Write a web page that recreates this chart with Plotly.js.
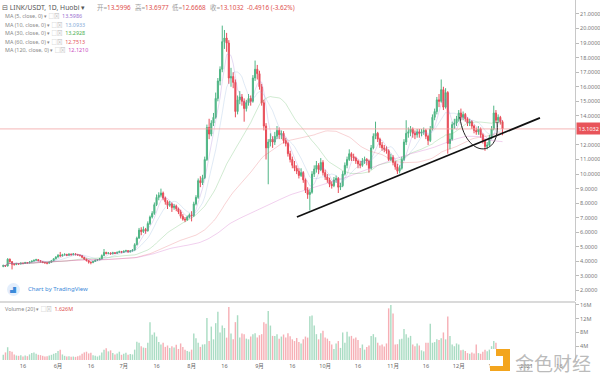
<!DOCTYPE html>
<html>
<head>
<meta charset="utf-8">
<script src="https://cdn.plot.ly/plotly-3.0.1.min.js"></script>
<style>html,body{margin:0;padding:0;background:#fff;}#chart{width:600px;height:376px;}</style>
</head>
<body>
<div id="chart"></div>
<script>
// ---- data (daily candles, LINK/USDT Huobi, ~May 7 – Dec 21 2020) ----
const open = [3.65,3.72,3.68,4.15,3.98,3.80,3.78,3.85,3.82,3.88,
3.86,3.92,3.90,3.96,4.02,4.08,4.12,4.05,3.98,3.93,
3.90,3.88,3.95,4.05,4.18,4.30,4.42,4.38,4.45,4.48,
4.42,4.50,4.46,4.52,4.47,4.44,4.40,4.28,4.15,4.05,
3.95,3.92,4.00,4.08,4.12,4.18,4.40,4.62,4.55,4.58,
4.52,4.60,4.55,4.62,4.68,4.62,4.70,4.74,4.65,4.72,
4.78,5.15,5.60,6.15,6.05,6.20,6.10,6.60,7.05,7.30,
7.90,8.40,8.55,8.70,8.35,8.10,7.85,7.95,7.70,7.80,
7.62,7.40,7.10,6.90,6.85,7.05,7.20,7.15,7.95,8.40,
9.55,9.40,9.75,11.00,13.20,12.75,13.50,13.90,15.20,16.40,
17.20,19.10,19.35,19.00,16.60,16.70,16.30,14.30,15.10,15.30,
15.00,14.50,14.90,15.20,15.00,16.60,17.20,16.90,16.00,14.90,
13.30,11.80,12.20,12.40,12.20,12.60,13.00,12.70,12.80,12.30,
12.10,11.40,11.00,10.60,10.40,10.20,9.90,10.10,9.60,8.90,
8.60,8.75,10.00,10.35,10.60,10.30,10.80,10.10,9.80,9.60,
9.30,9.20,9.60,9.70,9.10,9.20,10.00,10.60,11.00,11.40,
11.20,11.10,10.90,10.70,10.60,10.90,11.00,10.90,10.40,11.80,
12.60,12.80,12.40,12.00,11.80,11.70,11.60,11.00,11.15,10.80,
10.50,10.20,10.40,11.00,12.20,12.80,12.90,13.10,12.80,12.70,
12.90,12.80,12.90,13.00,12.60,12.30,13.10,13.90,14.30,15.10,
15.00,15.80,14.60,15.60,12.10,12.40,13.40,13.50,13.80,14.20,
13.90,14.10,13.80,13.50,13.60,13.30,13.00,12.90,13.10,12.70,
12.30,11.90,12.00,12.50,13.10,14.20,13.70,13.90,13.5996];
const high = [3.78,3.76,4.22,4.20,4.02,3.86,3.90,3.89,3.93,3.92,
3.97,3.95,4.00,4.06,4.12,4.18,4.15,4.08,4.01,3.97,
3.94,3.99,4.10,4.22,4.36,4.50,4.65,4.52,4.56,4.52,
4.56,4.54,4.58,4.55,4.52,4.48,4.44,4.31,4.19,4.08,
4.00,4.05,4.12,4.16,4.24,4.48,4.85,4.66,4.64,4.62,
4.66,4.63,4.68,4.74,4.72,4.76,4.80,4.78,4.77,4.84,
5.25,5.70,6.30,6.35,6.40,6.30,6.75,7.15,7.45,8.05,
8.60,8.75,9.00,8.80,8.45,8.20,8.15,8.05,7.95,7.90,
7.70,7.55,7.25,7.05,7.15,7.30,7.45,8.10,8.55,9.70,
9.85,9.95,11.20,13.40,13.80,13.70,14.20,15.60,16.60,17.40,
20.20,19.90,19.70,19.20,17.30,17.00,16.50,15.40,15.70,15.50,
15.20,15.10,15.50,15.40,16.80,17.80,17.50,17.10,16.20,15.10,
13.50,12.40,12.80,12.60,12.90,13.30,13.20,13.00,12.95,12.50,
12.20,11.60,11.20,10.90,10.60,10.40,10.40,10.20,9.70,9.10,
8.95,10.20,10.60,10.90,10.75,11.10,10.95,10.30,10.00,9.75,
9.50,9.80,9.90,9.80,9.40,10.20,10.80,11.20,11.70,11.50,
11.40,11.20,11.00,10.90,11.10,11.20,11.10,11.00,12.00,12.80,
13.60,12.90,12.50,12.20,12.00,11.90,11.70,11.40,11.30,10.90,
10.70,10.60,11.20,12.40,13.70,13.20,13.30,13.20,13.00,13.10,
13.10,13.10,13.20,13.10,12.70,13.30,14.10,14.50,15.30,15.50,
16.50,16.00,15.90,15.70,12.80,13.60,13.80,14.00,14.40,14.50,
14.30,14.20,13.90,13.80,13.70,13.40,13.20,13.30,13.20,12.80,
12.40,12.20,12.70,13.30,14.70,14.40,14.10,14.00,13.6977];
const low = [3.60,3.62,3.66,3.92,3.45,3.72,3.75,3.76,3.79,3.80,
3.83,3.85,3.87,3.93,3.98,4.04,4.00,3.94,3.88,3.85,
3.80,3.85,3.92,4.02,4.14,4.26,4.32,4.34,4.40,4.36,
4.39,4.40,4.42,4.41,4.38,4.34,4.22,4.10,4.00,3.85,
3.80,3.88,3.96,4.03,4.08,4.15,4.36,4.48,4.50,4.46,
4.48,4.50,4.52,4.58,4.56,4.58,4.66,4.60,4.62,4.68,
4.74,5.10,5.55,5.80,5.95,5.90,6.05,6.50,6.95,7.20,
7.80,8.20,8.40,8.20,7.90,7.60,7.75,7.40,7.55,7.45,
7.25,6.95,6.80,6.70,6.80,6.95,6.75,7.05,7.85,8.30,
9.10,9.25,9.65,10.90,12.40,12.60,13.30,13.80,15.00,16.10,
17.00,18.60,18.40,16.20,16.00,15.90,13.90,14.10,14.80,14.70,
13.60,14.30,14.70,14.70,14.90,16.40,16.50,15.80,14.70,13.00,
11.00,9.30,11.90,11.80,12.00,12.40,12.40,12.40,12.10,11.90,
11.20,10.80,10.40,10.20,10.00,9.70,9.80,9.40,8.70,8.30,
7.50,8.65,9.80,10.10,10.00,10.20,9.90,9.60,9.40,9.10,
9.00,9.10,9.40,8.70,8.90,9.10,9.90,10.40,10.90,10.90,
10.90,10.70,10.40,10.40,10.50,10.70,10.60,10.10,10.30,11.70,
12.40,12.20,11.80,11.60,11.50,11.40,10.90,10.90,10.60,10.30,
10.00,10.05,10.30,10.90,12.00,12.50,12.60,12.50,12.40,12.50,
12.50,12.60,12.70,12.40,12.00,12.20,13.00,13.70,14.10,14.60,
14.90,14.40,14.50,11.40,11.70,12.30,13.10,13.30,13.60,13.70,
13.70,13.60,13.30,13.30,13.10,12.80,12.70,12.70,12.50,12.10,
11.60,11.70,11.90,12.40,13.00,13.50,13.50,13.40,12.6668];
const close = [3.72,3.68,4.15,3.98,3.80,3.78,3.85,3.82,3.88,3.86,
3.92,3.90,3.96,4.02,4.08,4.12,4.05,3.98,3.93,3.90,
3.88,3.95,4.05,4.18,4.30,4.42,4.38,4.45,4.48,4.42,
4.50,4.46,4.52,4.47,4.44,4.40,4.28,4.15,4.05,3.95,
3.92,4.00,4.08,4.12,4.18,4.40,4.62,4.55,4.58,4.52,
4.60,4.55,4.62,4.68,4.62,4.70,4.74,4.65,4.72,4.78,
5.15,5.60,6.15,6.05,6.20,6.10,6.60,7.05,7.30,7.90,
8.40,8.55,8.70,8.35,8.10,7.85,7.95,7.70,7.80,7.62,
7.40,7.10,6.90,6.85,7.05,7.20,7.15,7.95,8.40,9.55,
9.40,9.75,11.00,13.20,12.75,13.50,13.90,15.20,16.40,17.20,
19.10,19.35,19.00,16.60,16.70,16.30,14.30,15.10,15.30,15.00,
14.50,14.90,15.20,15.00,16.60,17.20,16.90,16.00,14.90,13.30,
11.80,12.20,12.40,12.20,12.60,13.00,12.70,12.80,12.30,12.10,
11.40,11.00,10.60,10.40,10.20,9.90,10.10,9.60,8.90,8.60,
8.75,10.00,10.35,10.60,10.30,10.80,10.10,9.80,9.60,9.30,
9.20,9.60,9.70,9.10,9.20,10.00,10.60,11.00,11.40,11.20,
11.10,10.90,10.70,10.60,10.90,11.00,10.90,10.40,11.80,12.60,
12.80,12.40,12.00,11.80,11.70,11.60,11.00,11.15,10.80,10.50,
10.20,10.40,11.00,12.20,12.80,12.90,13.10,12.80,12.70,12.90,
12.80,12.90,13.00,12.60,12.30,13.10,13.90,14.30,15.10,15.00,
15.80,14.60,15.60,12.10,12.40,13.40,13.50,13.80,14.20,13.90,
14.10,13.80,13.50,13.60,13.30,13.00,12.90,13.10,12.70,12.30,
11.90,12.00,12.50,13.10,14.20,13.70,13.90,13.60,13.1032];
// volume in millions
const volume = [1.5,2.2,3.7,2.6,2.4,1.6,1.3,1.2,1.4,1.0,
1.3,1.1,1.6,2.0,2.2,1.8,1.5,1.4,1.2,1.0,
1.1,1.3,1.5,1.8,2.0,2.6,3.0,1.6,1.2,1.0,
1.1,0.9,1.0,0.9,1.1,1.3,1.8,2.2,2.4,1.9,
2.1,1.4,1.2,1.0,1.3,2.2,3.0,3.4,2.5,2.8,
2.0,1.6,1.9,2.4,1.5,1.8,2.1,1.5,1.7,1.6,
3.0,5.3,5.0,4.0,3.6,3.5,5.0,11.0,7.3,8.0,
6.8,5.2,4.5,5.0,3.8,4.2,3.5,4.0,3.6,4.4,
3.2,4.8,3.8,3.0,2.6,2.4,3.0,7.7,6.3,5.0,
3.8,4.5,4.6,12.2,5.5,9.7,6.0,10.7,14.0,8.0,
10.0,9.3,6.5,15.4,7.7,6.0,11.0,13.0,6.5,7.7,
7.5,6.2,6.0,6.8,7.5,7.8,6.5,7.2,7.5,11.0,
10.5,14.2,10.0,7.0,7.0,7.5,6.2,6.8,7.4,6.5,
7.8,6.9,6.0,5.5,6.4,5.2,4.8,6.0,6.8,6.5,
12.7,12.9,10.0,7.5,6.0,7.8,8.5,6.5,6.2,5.5,
4.5,3.2,4.8,5.5,3.5,8.0,5.0,8.2,6.8,7.0,
6.2,6.5,5.8,3.5,4.5,3.0,3.8,4.2,7.0,7.5,
6.6,5.0,4.2,4.5,3.9,4.8,15.0,16.0,13.5,4.5,
4.6,6.0,6.2,9.0,7.5,6.5,7.0,4.5,4.0,4.8,
4.2,2.8,2.5,5.0,5.0,10.5,5.0,5.2,6.0,5.8,
6.3,8.0,6.0,12.6,7.0,4.5,4.0,4.8,4.5,2.8,
3.0,2.6,2.0,1.8,2.2,1.9,4.5,2.0,1.8,2.4,
3.0,2.5,3.0,4.0,5.5,5.0,3.0,2.2,1.626];
// x-axis: day index (0 = May 7 2020); tick positions/labels
const tickDays   = [9,25,40,55,70,86,101,117,132,147,162,178,193,208,223,239,254];
const tickLabels = ['16','6月','16','7月','16','8月','16','9月','16','10月','16','11月','16','12月','16','2021','16'];
const priceTicks = [2,3,4,5,6,7,8,9,10,11,12,14,15,16,17,18,19,20,21];
const volTicks = [4,8,12,16];
const volTickLabels = ['4M','8M','12M','16M'];
// header (OHLC of the last candle)
const ohlcLabels = ['开=', '高=', '低=', '收='];
const ohlcValues = ['13.5996', '13.6977', '12.6668', '13.1032'];
const changeText = '-0.4916 (-3.62%)';
// moving averages shown in legend
const maPeriods = [5,10,30,60,120];
const maLegendValues = ['13.5986','13.0933','13.2928','12.7513','12.1210'];
const maColors = ['#9a6fd0','#86acd8','#4caf50','#e5535a','#c946be'];
// drawn trendline and arc (day index, price)
const trendDays = [134.1, 245.1];
const trendPrices = [7.05, 13.86];
const arcDays = [208.5, 211.0, 227.3, 225.5];
const arcPrices = [13.92, 11.06, 11.06, 13.58];
const lastPrice = 13.1032;

// ---------------------------------------------------------------
const days = close.map((_, i) => i);
function sma(arr, n) {
  const out = [];
  let sum = 0;
  for (let i = 0; i < arr.length; i++) {
    sum += arr[i];
    if (i >= n) sum -= arr[i - n];
    out.push(sum / Math.min(i + 1, n));
  }
  return out;
}
const UP = '#4fb585', DN = '#e84c58';
const traces = [];
maPeriods.forEach((p, k) => {
  traces.push({type:'scatter', mode:'lines', x: days, y: sma(close, p), xaxis:'x', yaxis:'y',
    line:{color: maColors[k], width: 0.8}, opacity: 0.32, hoverinfo:'skip', showlegend:false});
});
traces.push({type:'candlestick', x: days, open, high, low, close, xaxis:'x', yaxis:'y',
  increasing:{line:{color:UP, width:1}, fillcolor:UP},
  decreasing:{line:{color:DN, width:1}, fillcolor:DN},
  whiskerwidth:0, hoverinfo:'skip', showlegend:false});
traces.push({type:'bar', x: days, y: volume, xaxis:'x', yaxis:'y2',
  marker:{color: close.map((c, i) => c >= open[i] ? 'rgba(83,185,135,0.5)' : 'rgba(235,77,92,0.45)'), line:{width:0}},
  hoverinfo:'skip', showlegend:false});

const PW = 575, PH = 361;
const px = x => x / PW;
const py = y => (PH - y) / PH;
const FONT = 'Noto Sans, Noto Sans CJK SC, sans-serif';
const RED = '#e0524f';
const G = (t) => '<span style="color:#999">' + t + '</span>';
const R = (t) => '<span style="color:' + RED + '">' + t + '</span>';

const annotations = [];
const hdr = (x, text, size) => annotations.push({xref:'paper', yref:'paper', x:px(x), y:py(7), xanchor:'left', yanchor:'middle', showarrow:false,
  font:{family:FONT, size:size, color:'#555'}, text});
hdr(0, '⊟ LINK/USDT, 1D, Huobi ▾', 6.8);
const hdrX = [95, 132.5, 170, 208];
ohlcLabels.forEach((l, k) => hdr(hdrX[k], G(l) + R(ohlcValues[k]), 6.4));
hdr(245, R(changeText), 6.4);
const maRowsY = [16, 24.5, 33, 41.5, 50];
maPeriods.forEach((p, k) => {
  annotations.push({xref:'paper', yref:'paper', x:px(3), y:py(maRowsY[k]), xanchor:'left', yanchor:'middle', showarrow:false,
    font:{family:FONT, size:5.4, color:'#888'},
    text:'MA (' + p + ', close, 0) ▾ <span style="color:#bbb">□⊠</span>  <span style="color:' + maColors[k] + '">' + maLegendValues[k] + '</span>'});
});
annotations.push({xref:'paper', yref:'paper', x:px(26), y:py(289), xanchor:'left', yanchor:'middle', showarrow:false,
  font:{family:FONT, size:6, color:'#3b8ad9'}, text:'Chart by TradingView'});
annotations.push({xref:'paper', yref:'paper', x:px(13.5), y:py(289.5), xanchor:'center', yanchor:'middle', showarrow:false,
  font:{family:FONT, size:6, color:'#3b8ad9'}, text:'▟'});
annotations.push({xref:'paper', yref:'paper', x:px(3), y:py(309), xanchor:'left', yanchor:'middle', showarrow:false,
  font:{family:FONT, size:5.4, color:'#888'},
  text:'Volume (20) ▾ <span style="color:#bbb">□⊠</span>  ' + R('1.626M')});
annotations.push({xref:'paper', yref:'y', x:1, y:lastPrice, xanchor:'left', yanchor:'middle', xshift:1, showarrow:false,
  font:{family:FONT, size:5.5, color:'#fff'}, bgcolor:'#e8545a', borderpad:1.5, text:lastPrice.toFixed(4)});
annotations.push({xref:'paper', yref:'paper', x:px(513), y:py(362), xanchor:'left', yanchor:'middle', showarrow:false,
  font:{family:'Noto Sans CJK SC', size:19, color:'rgba(175,175,175,0.85)'}, text:'金色财经'});

const shapes = [
  {type:'line', xref:'paper', yref:'paper', x0:0, x1:1, y0:py(302), y1:py(302), line:{color:'#b5b5b5', width:1}},
  {type:'line', xref:'paper', yref:'y', x0:0, x1:1, y0:lastPrice, y1:lastPrice, line:{color:'#f2a3a3', width:0.8}},
  {type:'line', xref:'x', yref:'y', x0:trendDays[0], y0:trendPrices[0], x1:trendDays[1], y1:trendPrices[1], line:{color:'#111', width:1.8}},
  {type:'path', xref:'x', yref:'y', path:'M ' + arcDays[0] + ',' + arcPrices[0] + ' C ' + arcDays[1] + ',' + arcPrices[1] + ' ' + arcDays[2] + ',' + arcPrices[2] + ' ' + arcDays[3] + ',' + arcPrices[3], line:{color:'#222', width:1}},
  // TradingView badge
  {type:'circle', xref:'paper', yref:'paper', x0:px(7), x1:px(20), y0:py(296), y1:py(283), fillcolor:'#e3eefc', line:{width:0}},
  // watermark logo
  {type:'rect', xref:'paper', yref:'paper', x0:px(490), x1:px(510), y0:py(371), y1:py(349), fillcolor:'#f3a51e', line:{width:0}},
  {type:'rect', xref:'paper', yref:'paper', x0:px(490), x1:px(503), y0:py(366), y1:py(356), fillcolor:'#ffffff', line:{width:0}},
  {type:'rect', xref:'paper', yref:'paper', x0:px(490), x1:px(496), y0:py(356), y1:py(349), fillcolor:'#ffffff', line:{width:0}}
];

const axisFont = {family:FONT, size:5.5, color:'#777'};
const layout = {
  width:600, height:376,
  margin:{l:0, r:25, t:0, b:15, pad:0},
  paper_bgcolor:'#fff', plot_bgcolor:'#fff',
  showlegend:false, bargap:0.35, dragmode:false,
  font:{family:FONT},
  xaxis:{domain:[0,1], range:[-1.5, 261.1], anchor:'y2', tickvals:tickDays, ticktext:tickLabels,
    ticks:'', showgrid:false, zeroline:false, showline:false, tickfont:{family:FONT, size:5.5, color:'#666'},
    rangeslider:{visible:false}, fixedrange:true},
  yaxis:{domain:[(PH-301)/PH, 1], range:[1.28, 21.96], side:'right', anchor:'x', tickvals:priceTicks, tickformat:'.4f',
    ticks:'outside', ticklen:3, tickcolor:'#bbb', showline:true, linecolor:'#c8c8c8', linewidth:1,
    showgrid:false, zeroline:false, tickfont:axisFont, fixedrange:true},
  yaxis2:{domain:[0, (PH-302)/PH], range:[-0.3, 16.85], side:'right', anchor:'x', tickvals:volTicks, ticktext:volTickLabels,
    ticks:'outside', ticklen:3, tickcolor:'#bbb', showline:true, linecolor:'#c8c8c8', linewidth:1,
    showgrid:false, zeroline:false, tickfont:axisFont, fixedrange:true},
  annotations, shapes
};
Plotly.newPlot('chart', traces, layout, {displayModeBar:false, staticPlot:true});
</script>
</body>
</html>
